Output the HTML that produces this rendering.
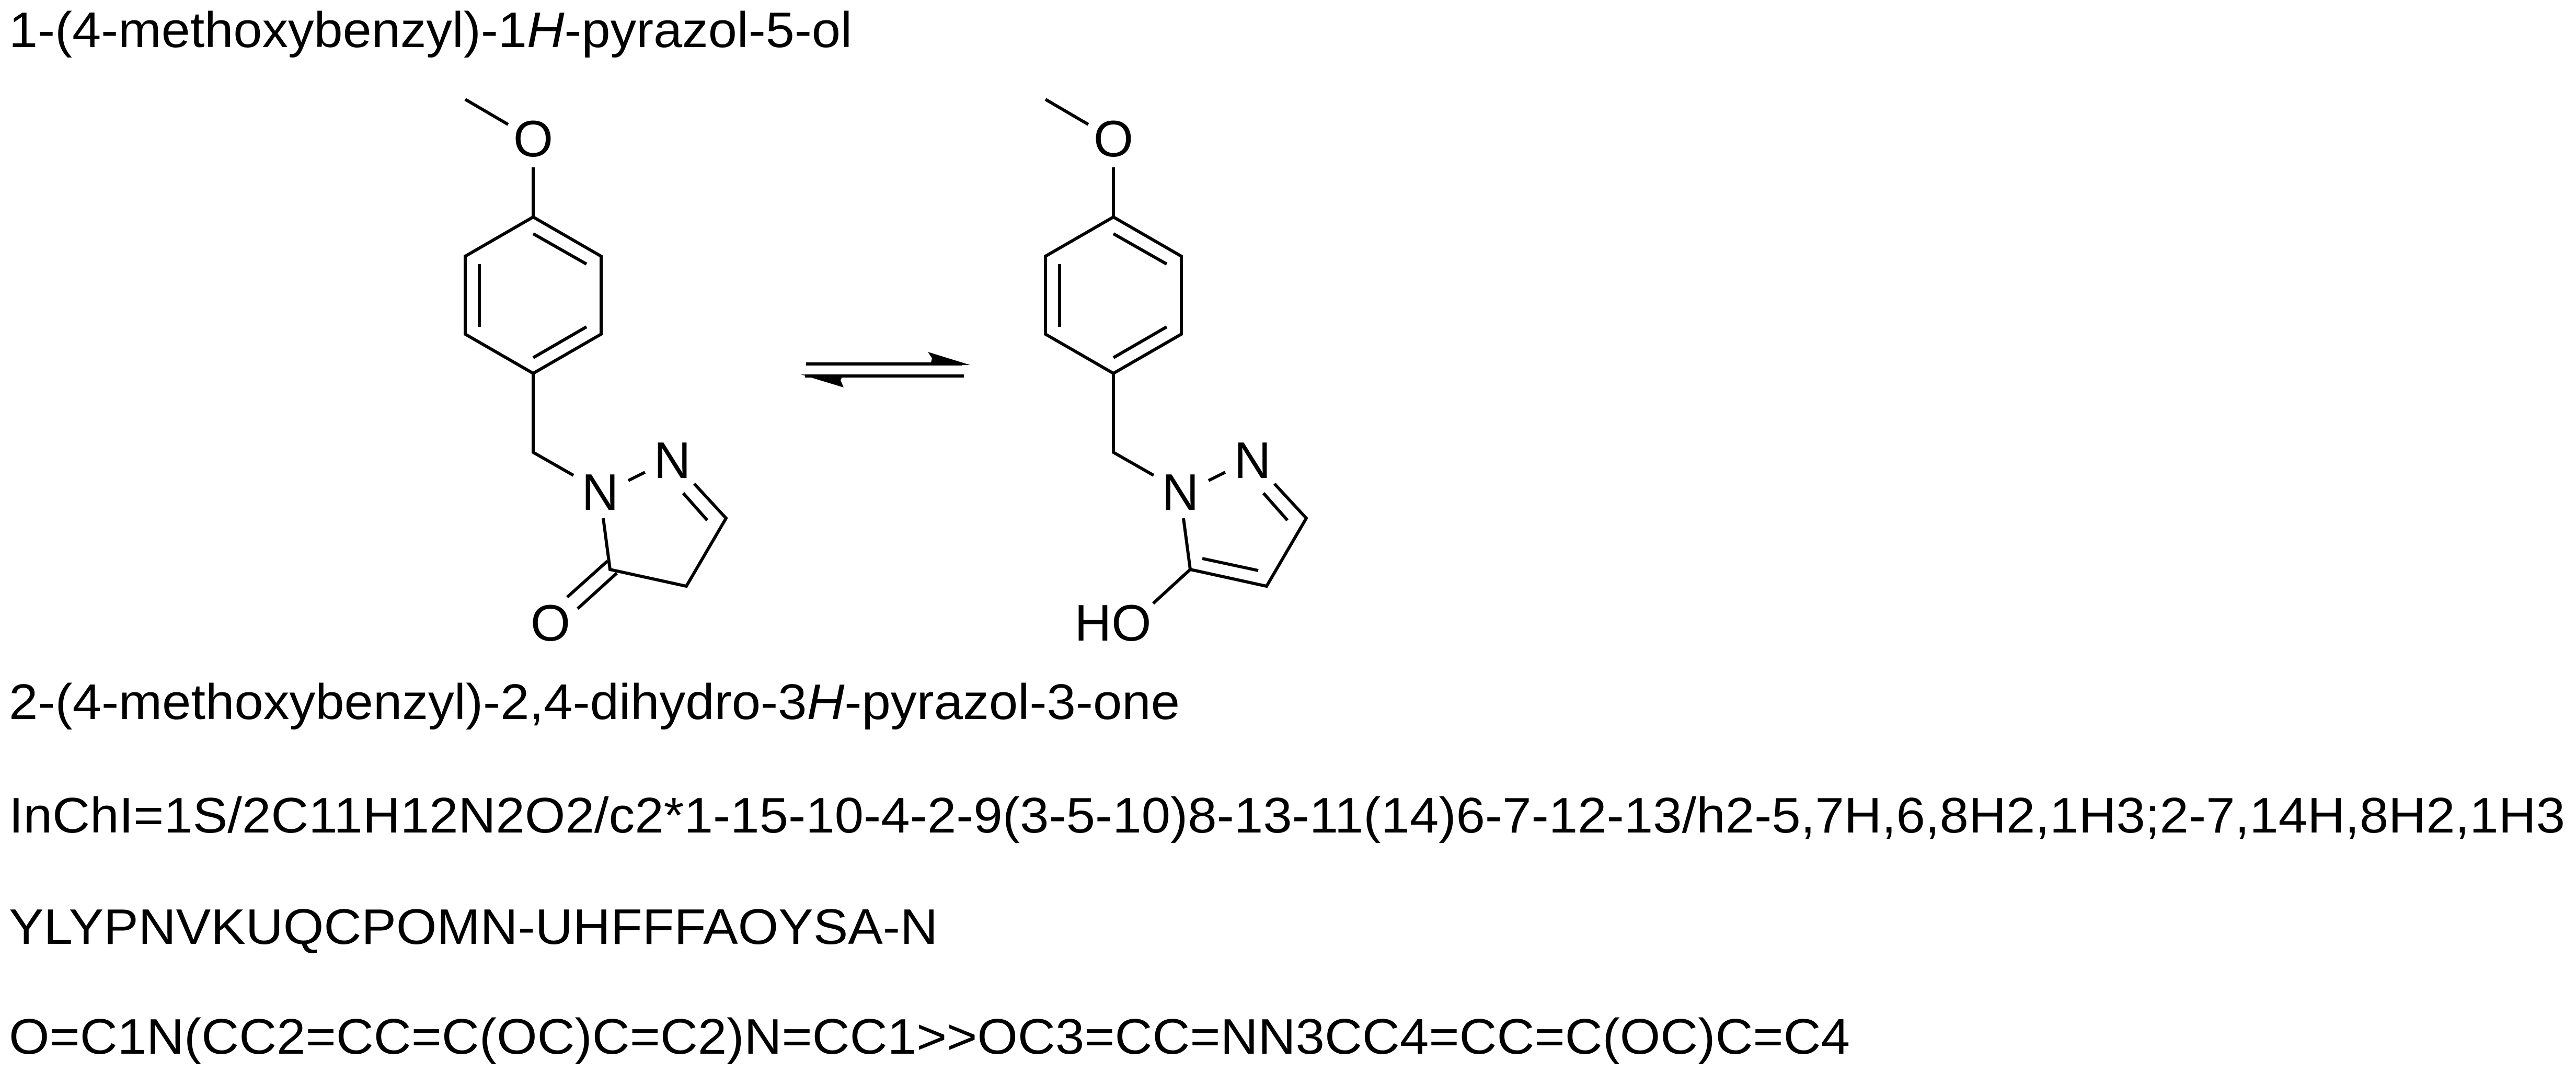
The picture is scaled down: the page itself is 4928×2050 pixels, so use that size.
<!DOCTYPE html>
<html><head><meta charset="utf-8"><style>
html,body{margin:0;padding:0;background:#fff;}
svg{display:block;}
text{font-family:"Liberation Sans",Arial,sans-serif;fill:#000;}
</style></head><body>
<svg width="4928" height="2050" viewBox="0 0 4928 2050" xmlns="http://www.w3.org/2000/svg">
<g font-size="96">
<text x="17" y="90" textLength="1613" lengthAdjust="spacingAndGlyphs">1-(4-methoxybenzyl)-1<tspan font-style="italic">H</tspan>-pyrazol-5-ol</text>
<text x="17" y="1375" textLength="2240" lengthAdjust="spacingAndGlyphs">2-(4-methoxybenzyl)-2,4-dihydro-3<tspan font-style="italic">H</tspan>-pyrazol-3-one</text>
<text x="17" y="1592" textLength="4890" lengthAdjust="spacingAndGlyphs">InChI=1S/2C11H12N2O2/c2*1-15-10-4-2-9(3-5-10)8-13-11(14)6-7-12-13/h2-5,7H,6,8H2,1H3;2-7,14H,8H2,1H3</text>
<text x="17" y="1805" textLength="1777" lengthAdjust="spacingAndGlyphs">YLYPNVKUQCPOMN-UHFFFAOYSA-N</text>
<text x="17" y="2015" textLength="3522" lengthAdjust="spacingAndGlyphs">O=C1N(CC2=CC=C(OC)C=C2)N=CC1&gt;&gt;OC3=CC=NN3CC4=CC=C(OC)C=C4</text>
</g>
<g stroke="#000" stroke-width="6" fill="none" stroke-linecap="butt" stroke-linejoin="miter">
<!-- left molecule -->
<line x1="890" y1="190" x2="972" y2="238"/>
<line x1="1020" y1="320" x2="1020" y2="415"/>
<polygon points="1020,415 1150,490 1150,639 1020,714 890,639 890,490"/>
<line x1="1020" y1="447" x2="1122" y2="505"/>
<line x1="917" y1="505" x2="917" y2="625"/>
<line x1="1020" y1="684" x2="1122" y2="625"/>
<polyline points="1020,714 1020,865 1097,909"/>
<line x1="1202" y1="919" x2="1234" y2="903"/>
<polyline points="1328,925 1389,991 1313,1121 1167,1089 1154,991"/>
<line x1="1307" y1="943" x2="1353" y2="995"/>
<line x1="1162" y1="1073" x2="1085" y2="1142"/>
<line x1="1180" y1="1096" x2="1105" y2="1164"/>
<!-- right molecule -->
<line x1="2000" y1="190" x2="2082" y2="238"/>
<line x1="2130" y1="320" x2="2130" y2="415"/>
<polygon points="2130,415 2260,490 2260,639 2130,714 2000,639 2000,490"/>
<line x1="2130" y1="447" x2="2232" y2="505"/>
<line x1="2027" y1="505" x2="2027" y2="625"/>
<line x1="2130" y1="684" x2="2232" y2="625"/>
<polyline points="2130,714 2130,865 2207,909"/>
<line x1="2312" y1="919" x2="2344" y2="903"/>
<polyline points="2438,925 2499,991 2423,1121 2277,1089 2264,991"/>
<line x1="2417" y1="943" x2="2463" y2="995"/>
<line x1="2300" y1="1068" x2="2407" y2="1091"/>
<line x1="2277" y1="1089" x2="2206" y2="1154"/>
<!-- equilibrium arrows -->
<line x1="1542" y1="696" x2="1840" y2="696"/>
<line x1="1540" y1="719" x2="1844" y2="719"/>
</g>
<polygon points="1775,673 1856,698 1780,698 1783,685" fill="#000"/>
<polygon points="1532,716 1614,741 1608,727 1612,719" fill="#000"/>
<g font-size="98" text-anchor="middle">
<text x="1020" y="299">O</text>
<text x="1148" y="975">N</text>
<text x="1286" y="914">N</text>
<text x="1053" y="1225">O</text>
<text x="2130" y="299">O</text>
<text x="2258" y="975">N</text>
<text x="2396" y="914">N</text>
<text x="2129" y="1225">HO</text>
</g>
</svg>
</body></html>
